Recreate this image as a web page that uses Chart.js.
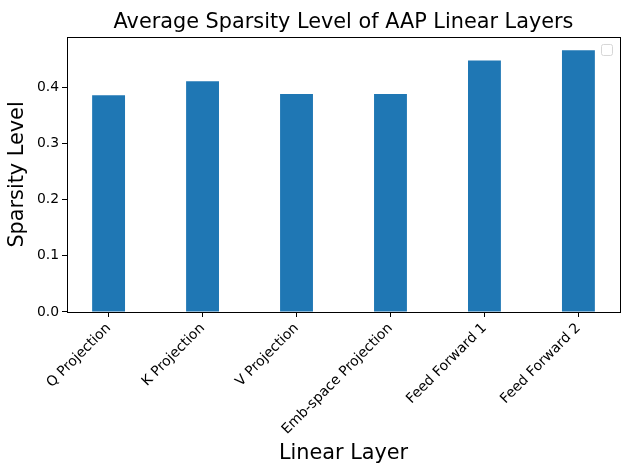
<!DOCTYPE html>
<html>
<head>
<meta charset="utf-8">
<script src="https://cdn.jsdelivr.net/npm/chart.js@4/dist/chart.umd.min.js"></script>
<style>
  body { margin: 0; background: #fff; }
  #wrap { width: 631px; height: 471px; }
</style>
</head>
<body>
<div id="wrap"><canvas id="sparsityChart" width="631" height="471"></canvas></div>
<script>
// chart data
const layers = ['Q Projection', 'K Projection', 'V Projection', 'Emb-space Projection', 'Feed Forward 1', 'Feed Forward 2'];
const sparsity = [0.386, 0.411, 0.388, 0.388, 0.448, 0.466];
const yTicks = [0.0, 0.1, 0.2, 0.3, 0.4];

const font = 'DejaVu Sans';

// frame round the plot + the empty legend box (matplotlib style)
const framePlugin = {
    id: 'frame',
    afterDraw(chart) {
        const a = chart.chartArea;
        const ctx = chart.ctx;
        ctx.save();
        ctx.strokeStyle = '#000';
        ctx.lineWidth = 1;
        ctx.strokeRect(Math.round(a.left) + 0.5, Math.round(a.top) + 0.5,
            Math.round(a.right - a.left), Math.round(a.bottom - a.top));
        // empty legend
        ctx.strokeStyle = '#d6d6d6';
        ctx.beginPath();
        ctx.roundRect(a.right - 18.5, a.top + 7.5, 11, 11, 2);
        ctx.stroke();
        ctx.restore();
    }
};

new Chart(document.getElementById('sparsityChart'), {
    type: 'bar',
    data: {
        datasets: [{
            data: sparsity.map((v, i) => ({ x: i, y: v })),
            backgroundColor: '#1f77b4',
            borderWidth: 0,
            barPercentage: 1,
            categoryPercentage: 0.35
        }]
    },
    options: {
        responsive: false,
        animation: false,
        devicePixelRatio: 1,
        layout: { padding: { left: 0, right: 11, top: 0, bottom: 0 } },
        plugins: {
            legend: { display: false },
            tooltip: { enabled: false },
            title: {
                display: true,
                fullSize: false,
                text: 'Average Sparsity Level of AAP Linear Layers',
                color: '#000',
                font: { family: font, size: 20.8, weight: 'normal' },
                padding: { top: 10, bottom: 2 }
            }
        },
        scales: {
            x: {
                type: 'linear',
                min: -0.4425,
                max: 5.4425,
                offset: false,
                afterBuildTicks: (scale) => { scale.ticks = layers.map((l, i) => ({ value: i })); },
                afterFit: (scale) => { scale.height = 159; },
                ticks: {
                    color: '#000',
                    font: { family: font, size: 13.9 },
                    maxRotation: 45,
                    minRotation: 45,
                    autoSkip: false,
                    padding: 3,
                    callback: (v) => layers[v]
                },
                grid: { offset: false, drawOnChartArea: false, drawTicks: true, tickLength: 5, color: '#000' },
                border: { display: false },
                title: {
                    display: true,
                    text: 'Linear Layer',
                    color: '#000',
                    font: { family: font, size: 20.8 },
                    padding: { top: 0, bottom: 5 }
                }
            },
            y: {
                min: 0,
                max: 0.4897,
                afterBuildTicks: (scale) => { scale.ticks = yTicks.map(v => ({ value: v })); },
                afterFit: (scale) => { scale.width = 67; },
                ticks: {
                    color: '#000',
                    font: { family: font, size: 13.9 },
                    padding: 3,
                    callback: (v) => v.toFixed(1)
                },
                grid: { drawOnChartArea: false, drawTicks: true, tickLength: 5, color: '#000' },
                border: { display: false },
                title: {
                    display: true,
                    text: 'Sparsity Level',
                    color: '#000',
                    font: { family: font, size: 20.8 },
                    padding: { top: 5, bottom: 0 }
                }
            }
        }
    },
    plugins: [framePlugin]
});
</script>
</body>
</html>
